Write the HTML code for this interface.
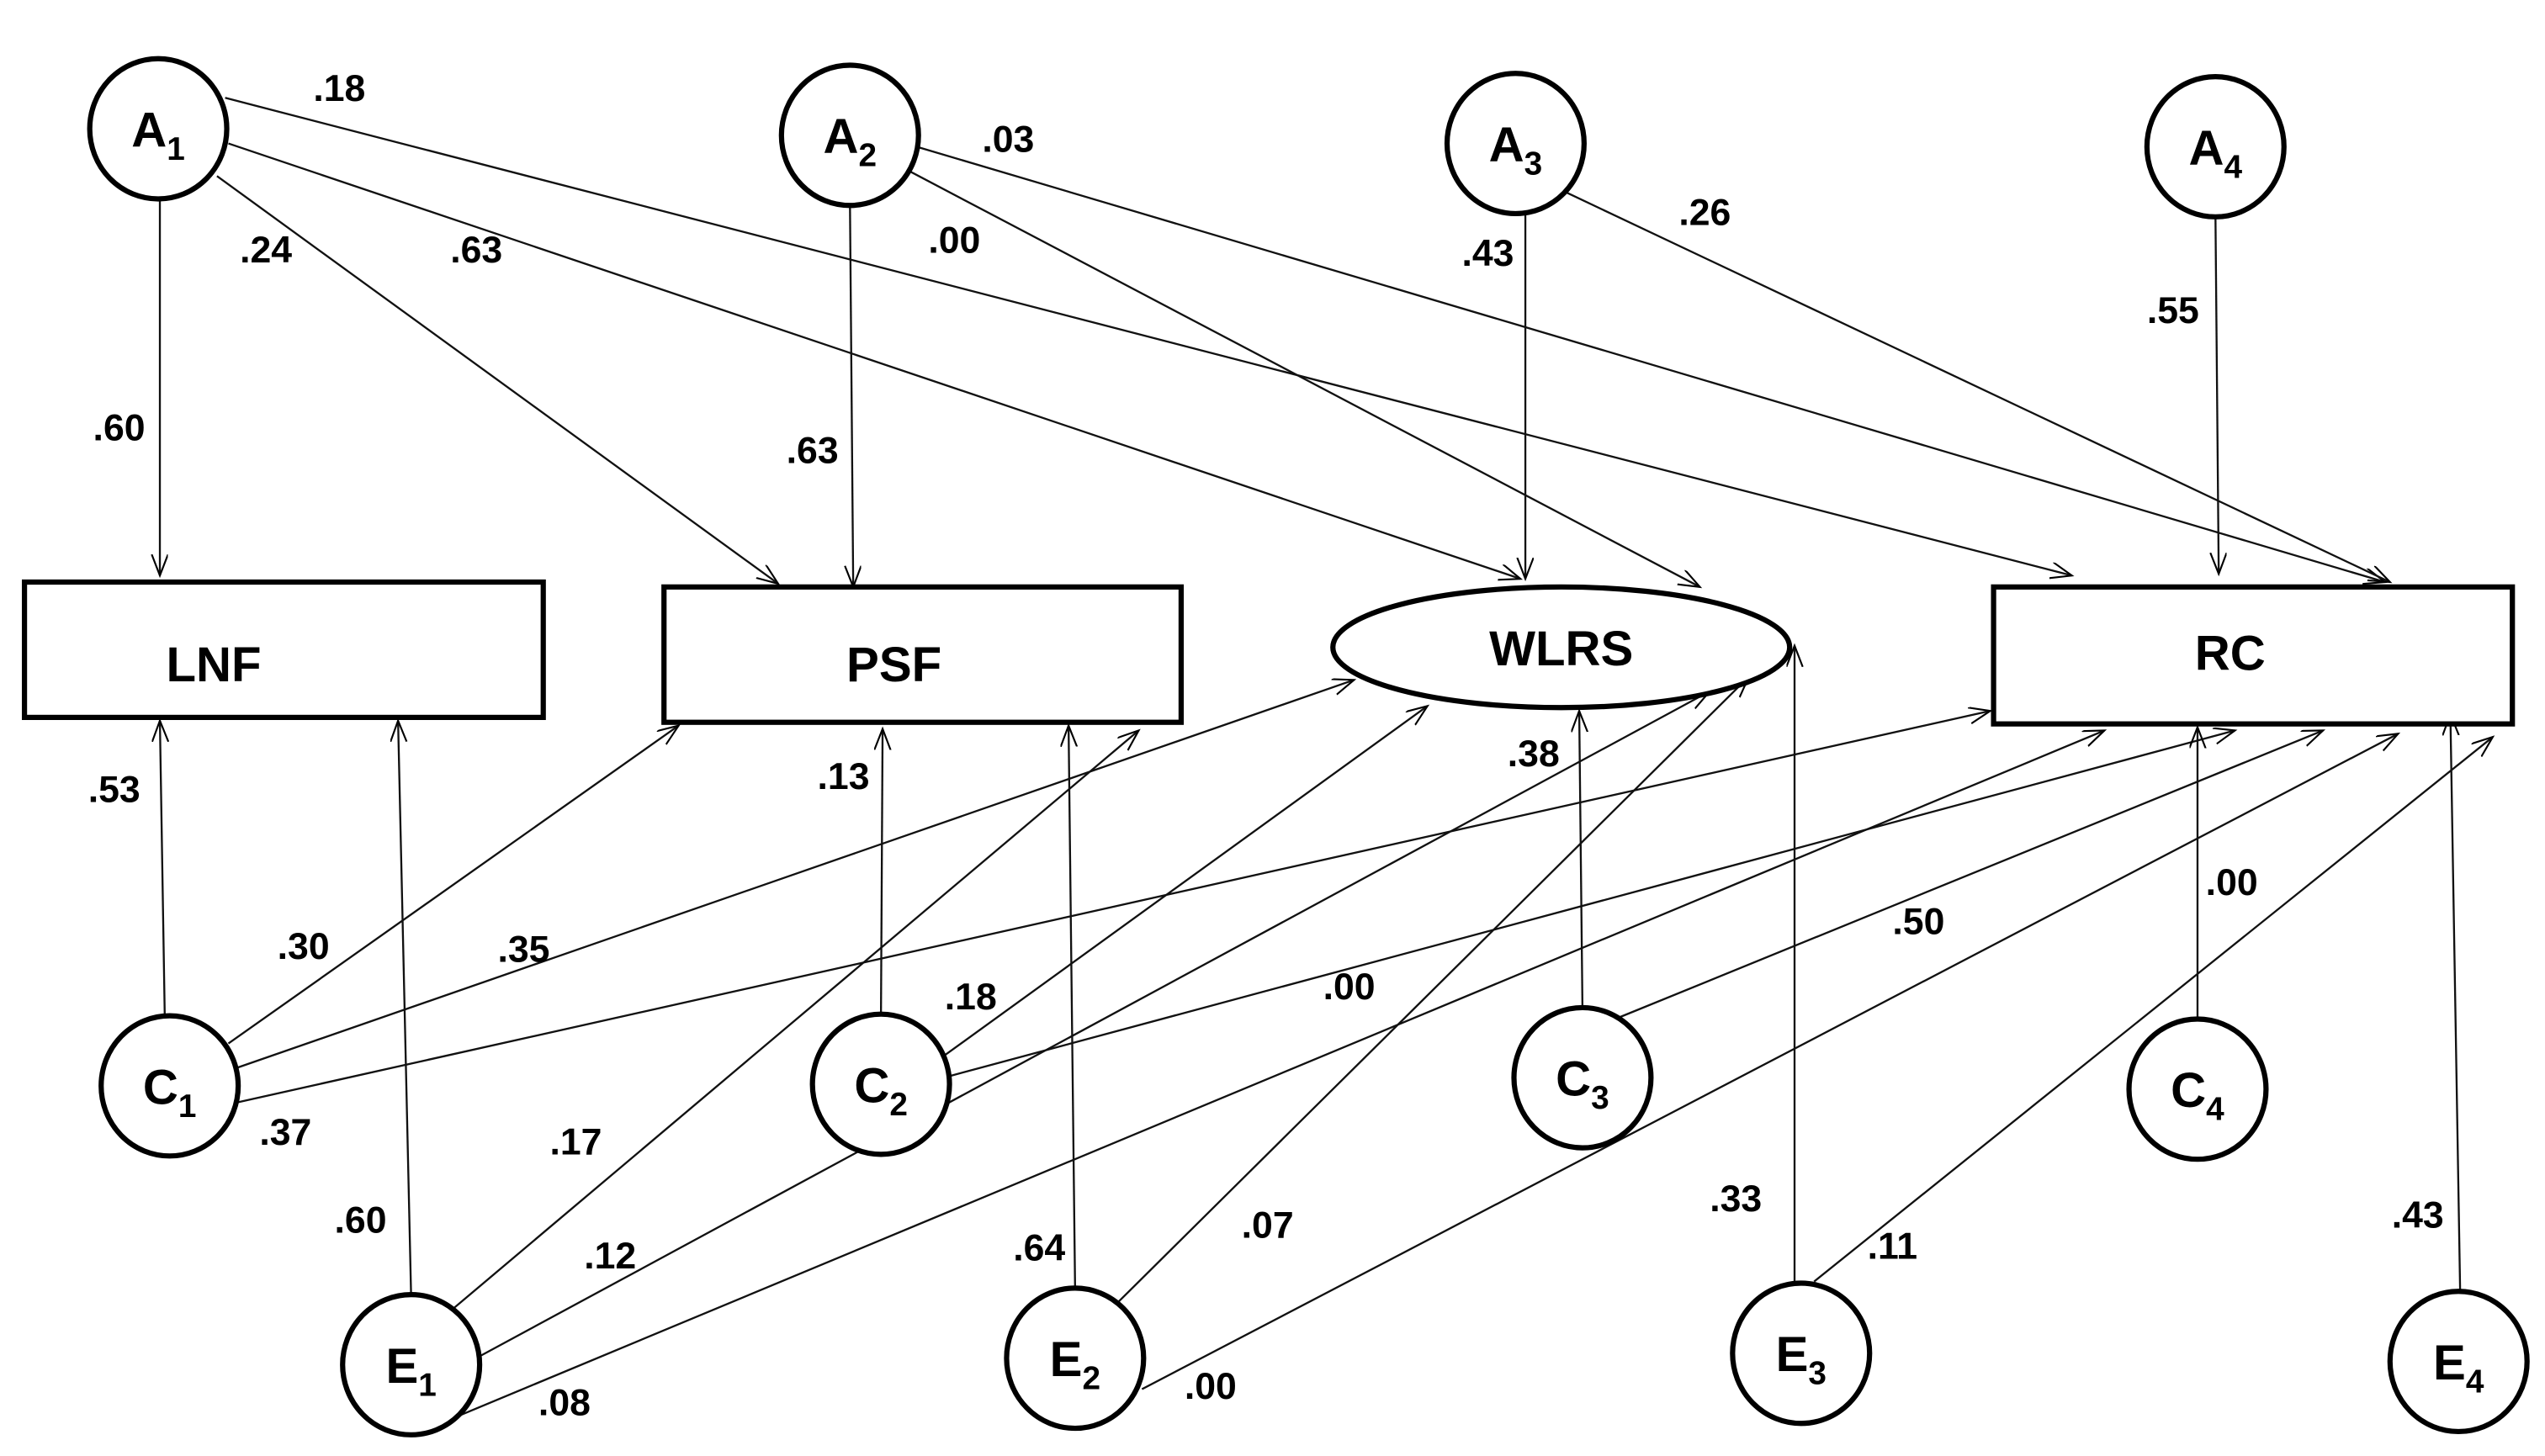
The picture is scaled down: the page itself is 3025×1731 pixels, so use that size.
<!DOCTYPE html>
<html><head><meta charset="utf-8"><style>html,body{margin:0;padding:0;background:#fff}svg{display:block}</style></head>
<body>
<svg width="3025" height="1731" viewBox="0 0 1560 893" preserveAspectRatio="none" xmlns="http://www.w3.org/2000/svg">
<defs>
<marker id="a" markerUnits="userSpaceOnUse" markerWidth="16" markerHeight="12" refX="13" refY="5" orient="auto">
<path d="M0,0 L13,5 L0,10" fill="none" stroke="#000" stroke-width="1.1"/>
</marker>
</defs>
<rect width="1560" height="893" fill="#fff"/>
<g stroke="#111" stroke-width="1.2" fill="none" marker-end="url(#a)">
<!-- top -->
<line x1="98" y1="122" x2="98" y2="353"/>
<line x1="133" y1="108" x2="477" y2="358"/>
<line x1="140" y1="88" x2="932" y2="355"/>
<line x1="138" y1="60" x2="1270" y2="353"/>
<line x1="521" y1="125" x2="523" y2="360"/>
<line x1="548" y1="100" x2="1042" y2="360"/>
<line x1="562" y1="90" x2="1462" y2="357"/>
<line x1="935" y1="130" x2="935" y2="355"/>
<line x1="960" y1="118" x2="1465" y2="357"/>
<line x1="1358" y1="132" x2="1360" y2="352"/>
<!-- bottom -->
<line x1="101" y1="624" x2="98" y2="442"/>
<line x1="140" y1="640" x2="416" y2="445"/>
<line x1="145" y1="655" x2="830" y2="417"/>
<line x1="146" y1="676" x2="1220" y2="436"/>
<line x1="252" y1="795" x2="244" y2="442"/>
<line x1="275" y1="805" x2="698" y2="448"/>
<line x1="290" y1="834" x2="1048" y2="424"/>
<line x1="282" y1="868" x2="1290" y2="448"/>
<line x1="540" y1="623" x2="541" y2="447"/>
<line x1="578" y1="648" x2="875" y2="433"/>
<line x1="582" y1="660" x2="1370" y2="448"/>
<line x1="659" y1="791" x2="655" y2="445"/>
<line x1="684" y1="800" x2="1072" y2="415"/>
<line x1="700" y1="852" x2="1470" y2="450"/>
<line x1="970" y1="619" x2="968" y2="436"/>
<line x1="990" y1="625" x2="1424" y2="448"/>
<line x1="1100" y1="788" x2="1100" y2="396"/>
<line x1="1112" y1="786" x2="1528" y2="452"/>
<line x1="1347" y1="626" x2="1347" y2="446"/>
<line x1="1508" y1="793" x2="1502" y2="438"/>
</g>
<g stroke="#000" stroke-width="3.2" fill="#fff">
<ellipse cx="97" cy="79" rx="42" ry="43"/>
<ellipse cx="521" cy="83" rx="42" ry="43"/>
<ellipse cx="929" cy="88" rx="42" ry="43"/>
<ellipse cx="1358" cy="90" rx="42" ry="43"/>
<rect x="15" y="357" width="318" height="83"/>
<rect x="407" y="360" width="317" height="83"/>
<ellipse cx="957" cy="397" rx="140" ry="37"/>
<rect x="1222" y="360" width="318" height="84"/>
<ellipse cx="104" cy="666" rx="42" ry="43"/>
<ellipse cx="540" cy="665" rx="42" ry="43"/>
<ellipse cx="970" cy="661" rx="42" ry="43"/>
<ellipse cx="1347" cy="668" rx="42" ry="43"/>
<ellipse cx="252" cy="837" rx="42" ry="43"/>
<ellipse cx="659" cy="833" rx="42" ry="43"/>
<ellipse cx="1104" cy="830" rx="42" ry="43"/>
<ellipse cx="1507" cy="835" rx="42" ry="43"/>
</g>
<g font-family="Liberation Sans, sans-serif" font-weight="bold" fill="#000" text-anchor="middle" font-size="30">
<text x="97" y="90">A<tspan font-size="20" dy="8">1</tspan></text>
<text x="521" y="94">A<tspan font-size="20" dy="8">2</tspan></text>
<text x="929" y="99">A<tspan font-size="20" dy="8">3</tspan></text>
<text x="1358" y="101">A<tspan font-size="20" dy="8">4</tspan></text>
<text x="104" y="677">C<tspan font-size="20" dy="8">1</tspan></text>
<text x="540" y="676">C<tspan font-size="20" dy="8">2</tspan></text>
<text x="970" y="672">C<tspan font-size="20" dy="8">3</tspan></text>
<text x="1347" y="679">C<tspan font-size="20" dy="8">4</tspan></text>
<text x="252" y="848">E<tspan font-size="20" dy="8">1</tspan></text>
<text x="659" y="844">E<tspan font-size="20" dy="8">2</tspan></text>
<text x="1104" y="841">E<tspan font-size="20" dy="8">3</tspan></text>
<text x="1507" y="846">E<tspan font-size="20" dy="8">4</tspan></text>
<text x="131" y="418">LNF</text>
<text x="548" y="418">PSF</text>
<text x="957" y="408">WLRS</text>
<text x="1367" y="411">RC</text>
</g>
<g font-family="Liberation Sans, sans-serif" font-weight="bold" fill="#000" text-anchor="middle" font-size="23">
<text x="208" y="62">.18</text>
<text x="163" y="161">.24</text>
<text x="292" y="161">.63</text>
<text x="618" y="93">.03</text>
<text x="585" y="155">.00</text>
<text x="498" y="284">.63</text>
<text x="73" y="270">.60</text>
<text x="912" y="163">.43</text>
<text x="1045" y="138">.26</text>
<text x="1332" y="198">.55</text>
<text x="70" y="492">.53</text>
<text x="186" y="588">.30</text>
<text x="321" y="590">.35</text>
<text x="175" y="702">.37</text>
<text x="517" y="484">.13</text>
<text x="595" y="619">.18</text>
<text x="827" y="613">.00</text>
<text x="940" y="470">.38</text>
<text x="1176" y="573">.50</text>
<text x="1368" y="549">.00</text>
<text x="353" y="708">.17</text>
<text x="221" y="756">.60</text>
<text x="374" y="778">.12</text>
<text x="346" y="868">.08</text>
<text x="637" y="773">.64</text>
<text x="777" y="759">.07</text>
<text x="742" y="858">.00</text>
<text x="1064" y="743">.33</text>
<text x="1160" y="772">.11</text>
<text x="1482" y="753">.43</text>
</g>
</svg>
</body></html>
